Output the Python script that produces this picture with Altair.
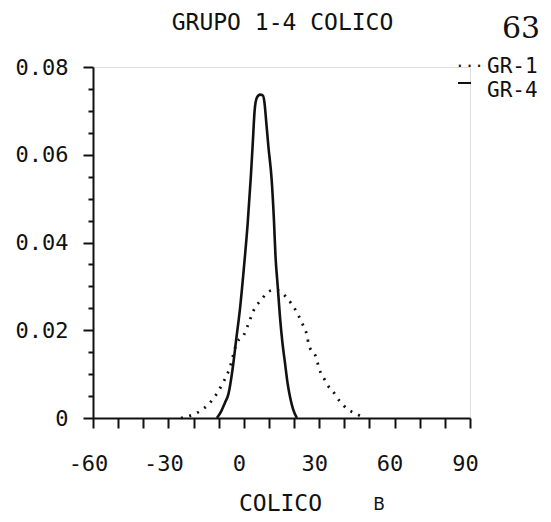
import altair as alt
import pandas as pd

# GR-4 (solid)
gr4_x = [-10.7, -9.0, -7.5, -6.1, -4.5, -3.0, -1.5, 0.0, 1.5, 2.8, 3.6, 4.3, 5.2, 6.5, 7.6, 8.2, 9.0, 9.8, 11.1, 12.0, 12.6, 13.5, 14.4, 15.4, 16.4, 17.4, 18.4, 19.6, 21.1]
gr4_y = [0.0, 0.0015, 0.0035, 0.0055, 0.0110, 0.0180, 0.0250, 0.0340, 0.0440, 0.0550, 0.0630, 0.0700, 0.0730, 0.0737, 0.0735, 0.0720, 0.0670, 0.0618, 0.0542, 0.0450, 0.0370, 0.0300, 0.0230, 0.0170, 0.0125, 0.0080, 0.0048, 0.0020, 0.0]

# GR-1 (dotted)
gr1_x = [-25.0, -21.5, -17.9, -12.7, -8.3, -5.6, -2.8, 0.0, 2.0, 3.9, 6.9, 9.8, 12.3, 15.0, 17.8, 20.7, 23.1, 25.1, 25.9, 28.7, 30.2, 32.2, 33.8, 35.0, 37.8, 41.8, 44.2, 48.1]
gr1_y = [0.0, 0.0005, 0.0014, 0.0040, 0.0080, 0.0114, 0.0171, 0.0189, 0.0217, 0.0245, 0.0269, 0.0288, 0.0292, 0.0286, 0.0269, 0.0245, 0.0217, 0.0189, 0.0166, 0.0139, 0.0109, 0.0087, 0.0071, 0.0064, 0.0041, 0.0018, 0.0011, 0.0]

x_ticks = list(range(-60, 91, 10))
y_ticks = [i * 0.005 for i in range(0, 17)]

title_text = "GRUPO 1-4 COLICO"
x_title = "COLICO"
legend_labels = ["GR-1", "GR-4"]

MONO = "DejaVu Sans Mono"
INK = "#111111"

df4 = pd.DataFrame({"x": gr4_x, "y": gr4_y})
df1 = pd.DataFrame({"x": gr1_x, "y": gr1_y})

xscale = alt.Scale(domain=[-60, 90], nice=False, zero=False)
yscale = alt.Scale(domain=[0, 0.08], nice=False, zero=False)

xaxis = alt.Axis(
    values=x_ticks,
    labelExpr="datum.value % 30 == 0 ? '' + datum.value : ''",
    tickSize=10, tickWidth=2, tickColor=INK,
    domainColor=INK, domainWidth=2,
    labelFont=MONO, labelFontSize=22, labelColor=INK, labelPadding=25,
    labelOffset=-5, labelFlush=False, labelOverlap=False,
    grid=False,
    title=x_title, titleFont=MONO, titleFontSize=23, titleFontWeight="normal",
    titleColor=INK, titleX=187, titleY=92, titleBaseline="alphabetic",
)
yaxis = alt.Axis(
    values=y_ticks,
    labelExpr="datum.value == 0 ? '0' : (round(datum.value * 200) % 4 == 0 ? format(datum.value, '.2f') : '')",
    tickSize={"condition": {"test": "round(datum.value * 200) % 4 == 0", "value": 10}, "value": 5},
    tickWidth=2, tickColor=INK,
    domainColor=INK, domainWidth=2,
    labelFont=MONO, labelFontSize=22, labelColor=INK, labelPadding=15,
    labelFlush=False, labelOverlap=False,
    grid=False, title=None,
)

solid = alt.Chart(df4).mark_line(color=INK, strokeWidth=2.6, interpolate="monotone").encode(
    x=alt.X("x:Q", scale=xscale, axis=xaxis), y=alt.Y("y:Q", scale=yscale, axis=yaxis), order="x:Q")
dotted = alt.Chart(df1).mark_line(color=INK, strokeWidth=2.8, strokeDash=[2, 6.5],
                                  interpolate="monotone").encode(
    x=alt.X("x:Q", scale=xscale, axis=xaxis), y=alt.Y("y:Q", scale=yscale, axis=yaxis), order="x:Q")

leg_df = pd.DataFrame({"label": legend_labels, "ypos": [6, 30]})
leg_text = alt.Chart(leg_df).mark_text(font=MONO, fontSize=21, align="left", baseline="alphabetic",
                                       color=INK).encode(
    text="label:N", x=alt.value(394), y=alt.Y("ypos:Q", scale=None, axis=None))

leg_dots = alt.Chart(pd.DataFrame({"t": ["..."]})).mark_text(
    font=MONO, fontSize=16, align="left", baseline="alphabetic", color=INK).encode(
    text="t:N", x=alt.value(362), y=alt.value(0))
leg_line = alt.Chart(pd.DataFrame({"a": [0]})).mark_rule(color=INK, strokeWidth=2).encode(
    x=alt.value(365), x2=alt.value(378), y=alt.value(16))

title_mark = alt.Chart(pd.DataFrame({"t": [title_text]})).mark_text(
    font=MONO, fontSize=23, align="center", baseline="alphabetic", color=INK).encode(
    text="t:N", x=alt.value(189.5), y=alt.value(-37))
page_no = alt.Chart(pd.DataFrame({"t": ["63"]})).mark_text(
    font="DejaVu Serif", fontSize=30, align="center", baseline="alphabetic", color=INK).encode(
    text="t:N", x=alt.value(428), y=alt.value(-29))
b_mark = alt.Chart(pd.DataFrame({"t": ["B"]})).mark_text(
    font="DejaVu Sans", fontSize=17, align="center", baseline="alphabetic", color=INK).encode(
    text="t:N", x=alt.value(286), y=alt.value(443))

chart = alt.layer(dotted, solid, leg_text, leg_dots, leg_line, title_mark, page_no, b_mark).properties(
    width=377, height=351,
    autosize=alt.AutoSizeParams(type="none"),
    padding={"left": 85, "top": 59, "right": 73, "bottom": 96},
).configure_view(stroke=None).configure(background="white")

chart.save("out.html", embed_options={"renderer": "svg", "actions": False})
